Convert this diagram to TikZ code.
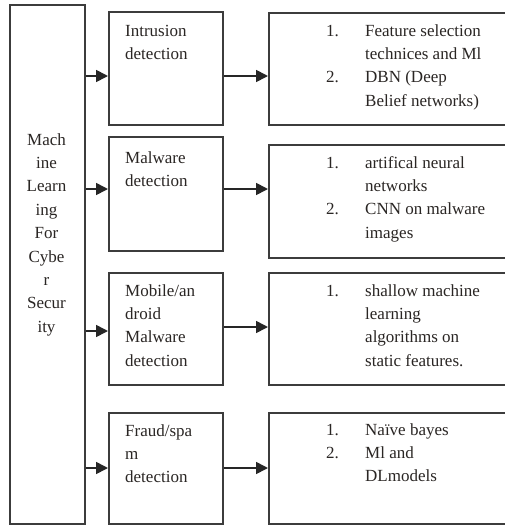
\documentclass[tikz,border=0pt]{standalone}
\usepackage{fontspec}
\setmainfont{Liberation Serif}[Ligatures=TeX]
\newfontfamily\timesf{Liberation Serif}
\usetikzlibrary{arrows.meta}
\definecolor{boxline}{HTML}{3C3C3C}
\definecolor{txt}{HTML}{2A2624}
\tikzset{
  box/.style={draw=boxline, line width=1.7pt, fill=none, inner sep=0pt, anchor=north west},
  txtnode/.style={inner sep=0pt, anchor=north west, align=left, text=txt,
    font=\timesf\fontsize{17}{23.4}\selectfont},
  lefttxt/.style={inner sep=0pt, anchor=north, align=center, text=txt,
    font=\timesf\fontsize{17}{23.4}\selectfont},
  arr/.style={draw=black!85, line width=1.7pt, -{Triangle[length=12pt,width=12pt]}}
}
\newcommand{\nb}[1]{\makebox[39pt][l]{#1}}
\newcommand{\ind}{\hspace*{39pt}}
\begin{document}
\begin{tikzpicture}[x=1pt,y=-1pt]
\useasboundingbox[fill=white] (0,0) rectangle (505,525);
% left box
\node[box, minimum width=75, minimum height=519] (L) at (9,4) {};
% middle boxes
\node[box, minimum width=114, minimum height=113] (M1) at (108,11) {};
\node[box, minimum width=114, minimum height=114] (M2) at (108,136) {};
\node[box, minimum width=114, minimum height=112] (M3) at (108,272) {};
\node[box, minimum width=114, minimum height=111] (M4) at (108,412) {};
% right boxes
\node[box, minimum width=260, minimum height=112] (R1) at (268,12) {};
\node[box, minimum width=260, minimum height=113] (R2) at (268,144) {};
\node[box, minimum width=260, minimum height=112] (R3) at (268,272) {};
\node[box, minimum width=260, minimum height=111] (R4) at (268,412) {};
% texts
\node[lefttxt] (tL) at (46.5,128.6) {\strut Mach\\ine\\Learn\\ing\\For\\Cybe\\r\\Secur\\ity};
\node[txtnode] (t1) at (125,19.6) {\strut Intrusion\\detection};
\node[txtnode] (t2) at (125,146.6) {\strut Malware\\detection};
\node[txtnode] (t3) at (125,279.6) {\strut Mobile/an\\droid\\Malware\\detection};
\node[txtnode] (t4) at (125,419.6) {\strut Fraud/spa\\m\\detection};
\node[txtnode] (r1) at (326,19.6) {\strut\nb{1.}Feature selection\\\ind technices and Ml\\\nb{2.}DBN (Deep\\\ind Belief networks)};
\node[txtnode] (r2) at (326,151.6) {\strut\nb{1.}artifical neural\\\ind networks\\\nb{2.}CNN on malware\\\ind images};
\node[txtnode] (r3) at (326,279.6) {\strut\nb{1.}shallow machine\\\ind learning\\\ind algorithms on\\\ind static features.};
\node[txtnode] (r4) at (326,418.6) {\strut\nb{1.}Naïve bayes\\\nb{2.}Ml and\\\ind DLmodels};
% arrow levels
\coordinate (a1) at (0,76);
\coordinate (a2) at (0,189);
\coordinate (a3) at (0,331);
\coordinate (a4) at (0,468);
\coordinate (b3) at (0,327);
\draw[arr] (L.east |- a1) -- (M1.west |- a1);
\draw[arr] (L.east |- a2) -- (M2.west |- a2);
\draw[arr] (L.east |- a3) -- (M3.west |- a3);
\draw[arr] (L.east |- a4) -- (M4.west |- a4);
\draw[arr] (M1.east |- a1) -- (R1.west |- a1);
\draw[arr] (M2.east |- a2) -- (R2.west |- a2);
\draw[arr] (M3.east |- b3) -- (R3.west |- b3);
\draw[arr] (M4.east |- a4) -- (R4.west |- a4);
\end{tikzpicture}
\end{document}
